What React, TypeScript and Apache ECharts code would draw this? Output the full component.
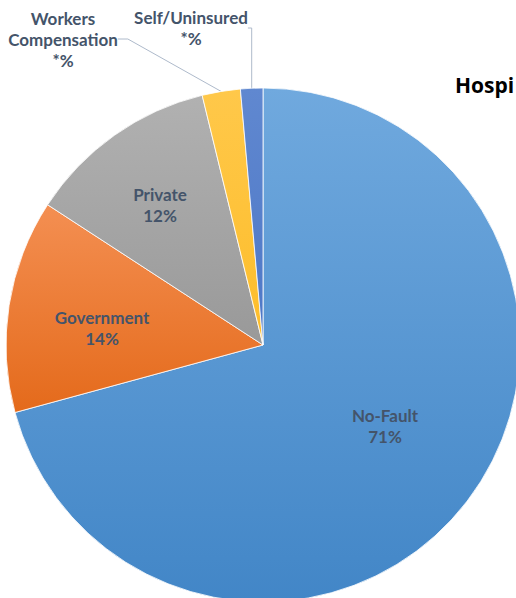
import React, { useEffect, useRef } from "react";
import * as echarts from "echarts";

const categories = ["No-Fault", "Government", "Private", "Workers Compensation", "Self/Uninsured"];
const values = [70.7, 13.4, 12.0, 2.4, 1.4];
const labelTexts = ["No-Fault\n71%", "Government\n14%", "Private\n12%", "Workers\nCompensation\n*%", "Self/Uninsured\n*%"];
const titleText = "Hospi";

const grad = (a: string, b: string) =>
  new echarts.graphic.LinearGradient(0, 0, 0, 1, [
    { offset: 0, color: a },
    { offset: 1, color: b },
  ]);

export default function App() {
  const ref = useRef<HTMLDivElement>(null);
  useEffect(() => {
    if (!ref.current) return;
    const chart = echarts.init(ref.current, undefined, { renderer: "svg" });
    const colors = [
      grad("#70a9de", "#4286c7"),
      grad("#f48f52", "#e46a1b"),
      grad("#b1b1b1", "#999999"),
      grad("#ffc84a", "#fdbd2a"),
      grad("#6088d0", "#4d77c6"),
    ];
    const labelPos: Record<number, [number, number]> = {
      0: [385, 426],
      1: [102, 328],
      2: [160, 205],
      3: [63, 39],
      4: [191, 28],
    };
    chart.setOption({
      animation: false,
      title: {
        text: titleText,
        left: 455,
        top: 74,
        padding: 0,
        textStyle: { fontFamily: "Open Sans", fontWeight: "bold", fontSize: 21, color: "#000000" },
      },
      series: [
        {
          type: "pie",
          center: [263, 345],
          radius: 257,
          startAngle: 90,
          clockwise: true,
          silent: true,
          avoidLabelOverlap: false,
          itemStyle: { borderColor: "#ffffff", borderWidth: 0.8 },
          label: {
            show: true,
            position: "outside",
            alignTo: "none",
            overflow: "none",
            bleedMargin: 0,
            fontFamily: "Lato",
            fontWeight: "bold",
            fontSize: 17,
            lineHeight: 21,
            color: "#44546a",
            align: "center",
            formatter: (p: any) => labelTexts[p.dataIndex],
          },
          labelLine: { show: false, lineStyle: { color: "#aebacb", width: 1 } },
          labelLayout: (p: any) => {
            const pos = labelPos[p.dataIndex];
            return { x: pos[0], y: pos[1], align: "center", verticalAlign: "middle", hideOverlap: false };
          },
          data: categories.map((name, i) => ({
            name,
            value: values[i],
            itemStyle: { color: colors[i] },
            labelLine: { show: i >= 3, length: 10, length2: 10 },
          })),
        },
      ],
    });
    return () => chart.dispose();
  }, []);
  return (
    <div
      ref={ref}
      style={{ position: "fixed", left: 0, top: 0, width: 516, height: 598, background: "#ffffff" }}
    />
  );
}
